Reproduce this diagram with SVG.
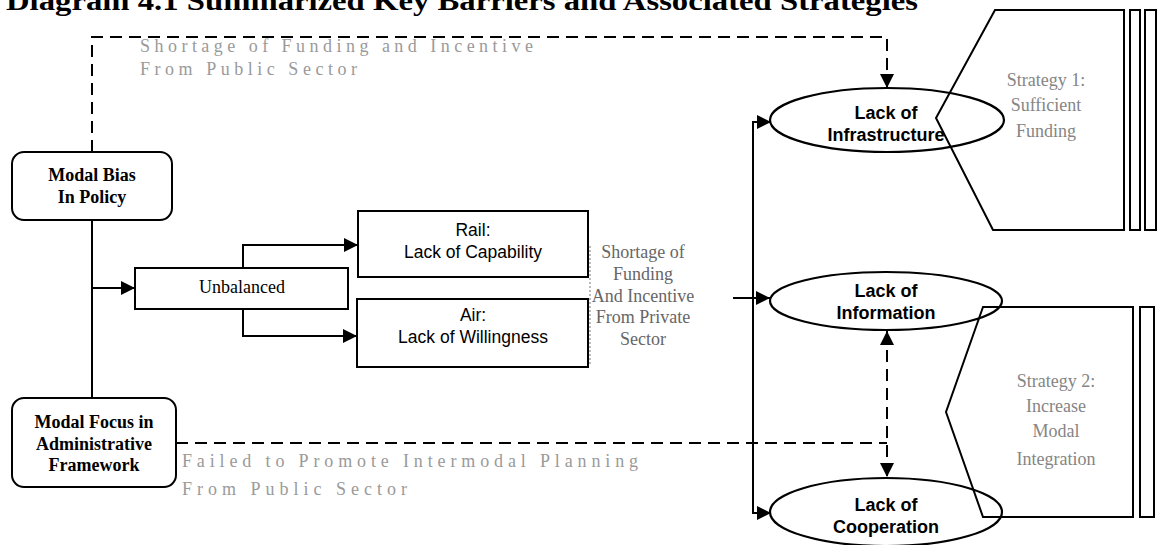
<svg xmlns="http://www.w3.org/2000/svg" width="1158" height="545" viewBox="0 0 1158 545">
<style>
.box{fill:#fff;stroke:#000;stroke-width:2}
.ell{fill:#fff;stroke:#000;stroke-width:2.2}
.strat{fill:none;stroke:#000;stroke-width:2}
.bar{fill:#fff;stroke:#000;stroke-width:2}
.ser{font-family:"Liberation Serif","Times New Roman",serif}
.sb{font-family:"Liberation Serif","Times New Roman",serif;font-weight:bold;font-size:18px;fill:#000;text-anchor:middle}
.sans{font-family:"Liberation Sans",Arial,sans-serif;font-size:17.5px;fill:#000;text-anchor:middle}
.sansb{font-family:"Liberation Sans",Arial,sans-serif;font-weight:bold;font-size:18px;fill:#000;text-anchor:middle}
.faint{font-family:"Liberation Serif","Times New Roman",serif;font-size:18px;fill:#9a9a9a}
.grey{font-family:"Liberation Serif","Times New Roman",serif;font-size:18px;fill:#666;text-anchor:middle}
.sl{font-family:"Liberation Serif","Times New Roman",serif;font-size:18px;fill:#858585;text-anchor:middle}
.solid{fill:none;stroke:#000;stroke-width:2}
.dash{fill:none;stroke:#000;stroke-width:2;stroke-dasharray:12,7}
</style>
<defs>
<marker id="ahl" viewBox="0 0 10 10" refX="10" refY="5" markerWidth="14" markerHeight="14" markerUnits="userSpaceOnUse" orient="auto-start-reverse">
<path d="M0,0 L10,5 L0,10 z" fill="#000"/>
</marker>
</defs>
<rect width="1158" height="545" fill="#fff"/>

<text class="ser" x="6" y="10" font-size="27" font-weight="bold" textLength="912" lengthAdjust="spacingAndGlyphs">Diagram 4.1 Summarized Key Barriers and Associated Strategies</text>

<g id="connectors">
<path class="dash" d="M92,152 V37 H887 V88" marker-end="url(#ahl)"/>
<path class="solid" d="M92,220 V398"/>
<path class="solid" d="M92,288 H135" marker-end="url(#ahl)"/>
<path class="solid" d="M243,268 V245 H358" marker-end="url(#ahl)"/>
<path class="solid" d="M243,309 V336 H357" marker-end="url(#ahl)"/>
<path class="dash" d="M176,443 H887"/>
<path class="dash" d="M887,331 V477" marker-start="url(#ahl)" marker-end="url(#ahl)"/>
<path class="solid" d="M733,298 H770" marker-end="url(#ahl)"/>
<path class="solid" d="M753,300 V122 H771" marker-end="url(#ahl)"/>
<path class="solid" d="M753,300 V513 H771" marker-end="url(#ahl)"/>
<path d="M590,246 V366" fill="none" stroke="#777" stroke-width="1" stroke-dasharray="2,2"/>
</g>

<g id="label-public-top">
<text class="faint" x="140" y="52" textLength="393" lengthAdjust="spacing">Shortage of Funding and Incentive</text>
<text class="faint" x="140" y="75" textLength="217" lengthAdjust="spacing">From Public Sector</text>
</g>
<g id="label-public-bottom">
<text class="faint" x="182" y="467" textLength="456" lengthAdjust="spacing">Failed to Promote Intermodal Planning</text>
<text class="faint" x="182" y="495" textLength="225" lengthAdjust="spacing">From Public Sector</text>
</g>
<g id="label-private">
<text class="grey" x="643" y="258">Shortage of</text>
<text class="grey" x="643" y="280">Funding</text>
<text class="grey" x="643" y="302">And Incentive</text>
<text class="grey" x="643" y="323">From Private</text>
<text class="grey" x="643" y="345">Sector</text>
</g>

<g id="modal-bias">
<rect class="box" x="12" y="152" width="160" height="68" rx="12"/>
<text class="sb" x="92" y="181">Modal Bias</text>
<text class="sb" x="92" y="203">In Policy</text>
</g>
<g id="modal-focus">
<rect class="box" x="12" y="398" width="164" height="89" rx="12"/>
<text class="sb" x="94" y="428">Modal Focus in</text>
<text class="sb" x="94" y="450">Administrative</text>
<text class="sb" x="94" y="471">Framework</text>
</g>
<g id="unbalanced">
<rect class="box" x="135" y="268" width="213" height="41"/>
<text class="ser" x="242" y="293" font-size="18" text-anchor="middle">Unbalanced</text>
</g>
<g id="rail">
<rect class="box" x="358" y="211" width="230" height="66"/>
<text class="sans" x="473" y="236">Rail:</text>
<text class="sans" x="473" y="258">Lack of Capability</text>
</g>
<g id="air">
<rect class="box" x="357" y="299" width="231" height="68"/>
<text class="sans" x="473" y="321">Air:</text>
<text class="sans" x="473" y="343">Lack of Willingness</text>
</g>

<g id="lack-infrastructure">
<ellipse class="ell" cx="887" cy="120" rx="117" ry="32"/>
<text class="sansb" x="886" y="119">Lack of</text>
<text class="sansb" x="886" y="141">Infrastructure</text>
</g>
<g id="lack-information">
<ellipse class="ell" cx="886" cy="301" rx="116" ry="29"/>
<text class="sansb" x="886" y="297">Lack of</text>
<text class="sansb" x="886" y="319">Information</text>
</g>
<g id="lack-cooperation">
<ellipse class="ell" cx="886" cy="512" rx="116" ry="34"/>
<text class="sansb" x="886" y="511">Lack of</text>
<text class="sansb" x="886" y="533">Cooperation</text>
</g>

<g id="strategy-1">
<polygon class="strat" points="995,10 936,118 993,230 1124,230 1124,10"/>
<rect class="bar" x="1130" y="10" width="10" height="220"/>
<rect class="bar" x="1145" y="10" width="11" height="220"/>
<text class="sl" x="1046" y="86">Strategy 1:</text>
<text class="sl" x="1046" y="111">Sufficient</text>
<text class="sl" x="1046" y="137">Funding</text>
</g>
<g id="strategy-2">
<polygon class="strat" points="983,307 946,412 983,517 1133,517 1133,307"/>
<rect class="bar" x="1140" y="307" width="14" height="210"/>
<text class="sl" x="1056" y="387">Strategy 2:</text>
<text class="sl" x="1056" y="412">Increase</text>
<text class="sl" x="1056" y="437">Modal</text>
<text class="sl" x="1056" y="465">Integration</text>
</g>
</svg>
